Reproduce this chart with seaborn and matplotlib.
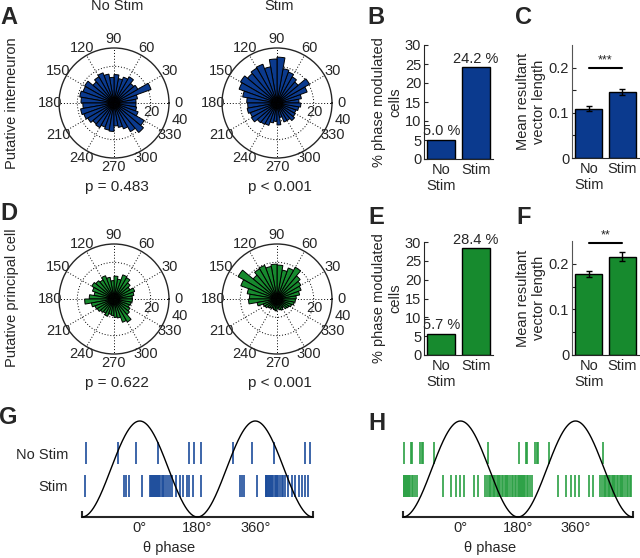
import numpy as np
import pandas as pd
import matplotlib
matplotlib.use("Agg")
import matplotlib.pyplot as plt
import seaborn as sns

# ---- data ----
bin_centres_deg = np.arange(5, 360, 10)  # 36 rose bins

int_nostim_rose = [24, 26, 43, 30, 28, 33, 30, 27, 31, 28, 32, 35, 33, 30, 37, 36, 38, 36,
                   34, 37, 35, 33, 30, 31, 28, 30, 31, 25, 27, 30, 36, 42, 38, 28, 25, 24]
int_stim_rose = [24, 27, 35, 41, 30, 33, 36, 38, 50, 48, 40, 45, 44, 42, 46, 44, 38, 33,
                 32, 33, 31, 32, 28, 27, 26, 22, 20, 24, 16, 22, 22, 25, 23, 22, 24, 26]
pc_nostim_rose = [20, 22, 24, 20, 23, 27, 28, 22, 25, 20, 24, 27, 24, 26, 28, 25, 22, 27,
                  32, 25, 22, 21, 19, 18, 20, 17, 18, 20, 21, 27, 29, 22, 20, 18, 19, 20]
pc_stim_rose = [21, 25, 28, 30, 33, 40, 36, 32, 37, 38, 36, 39, 38, 34, 49, 42, 33, 30,
                31, 22, 16, 15, 13, 12, 11, 12, 13, 10, 12, 13, 11, 14, 15, 17, 19, 20]

conditions = ["No\nStim", "Stim"]
int_pct_modulated = [5.0, 24.2]
pc_pct_modulated = [5.7, 28.4]
int_mrl = [0.109, 0.146]
int_mrl_sem = [0.006, 0.007]
pc_mrl = [0.178, 0.216]
pc_mrl_sem = [0.006, 0.010]

# spike phases (deg, one theta cycle), plotted over two cycles
g_nostim_phase = [-168, -68, -11, 58, 154, 170]
g_stim_phase = [-170, -48, -42, -34, 7, 32, 35, 38, 41, 44, 47, 50, 53, 56, 60, 64, 68,
                72, 77, 82, 88, 93, 101, 113, 124, 136, 146, 155, 165]
h_nostim_phase = [-178, -155, -151, -126, -122, -116, -84, 87]
h_stim_phase = [-179, -176, -173, -170, -167, -164, -161, -158, -153, -148, -142, -135,
                -54, -31, -15, -2, 12, 43, 56, 78, 84, 89, 93, 97, 101, 105, 109, 113,
                117, 121, 125, 129, 133, 138, 142, 146, 150, 155, 160, 165, 170, 175]

BLUE = "#0b3a8e"
GREEN = "#178a2e"
RASTER_BLUE = "#1b4c9b"
RASTER_GREEN = "#2aa043"

sns.set_style("ticks")
plt.rcParams["font.family"] = ["Liberation Sans", "DejaVu Sans"]
plt.rcParams["font.size"] = 10

W, H = 640, 558
fig = plt.figure(figsize=(6.4, 5.58), dpi=100)


def px_axes(l, t, r, b, **kw):
    return fig.add_axes([l / W, 1 - b / H, (r - l) / W, (b - t) / H], **kw)


def ftext(x, y, s, **kw):
    fig.text(x / W, 1 - y / H, s, **kw)


def rose(ax, counts, color):
    theta = np.deg2rad(bin_centres_deg)
    ax.bar(theta, counts, width=np.deg2rad(10), bottom=0, color=color,
           edgecolor="black", linewidth=0.7, zorder=3)
    ax.set_ylim(0, 60)
    ax.set_rgrids([20, 40], labels=["", ""])
    ax.set_thetagrids(range(0, 360, 30), labels=[str(a) for a in range(0, 360, 30)])
    ax.grid(True, color="black", linestyle=(0, (1, 2)), linewidth=0.7)
    ax.spines["polar"].set_linewidth(1.0)
    ax.tick_params(axis="x", pad=-4, labelsize=10.5)
    ax.set_facecolor("white")
    ax.text(np.deg2rad(-13), 42, "20", ha="center", va="center", fontsize=10.5, zorder=5)
    ax.text(np.deg2rad(-14.5), 74, "40", ha="center", va="center", fontsize=10.5,
            clip_on=False)


# ---- polar roses ----
rose(px_axes(59, 48, 169, 158, projection="polar"), int_nostim_rose, BLUE)
rose(px_axes(222, 48, 332, 158, projection="polar"), int_stim_rose, BLUE)
rose(px_axes(59, 244, 169, 354, projection="polar"), pc_nostim_rose, GREEN)
rose(px_axes(222, 244, 332, 354, projection="polar"), pc_stim_rose, GREEN)

ftext(117, 6, "No Stim", ha="center", va="center", fontsize=10.5)
ftext(279, 6, "Stim", ha="center", va="center", fontsize=10.5)
ftext(117, 187, "p = 0.483", ha="center", va="center", fontsize=11)
ftext(280, 187, "p < 0.001", ha="center", va="center", fontsize=11)
ftext(117, 383, "p = 0.622", ha="center", va="center", fontsize=11)
ftext(280, 383, "p < 0.001", ha="center", va="center", fontsize=11)
ftext(12, 103, "Putative interneuron", rotation=90, ha="center", va="center", fontsize=10.5)
ftext(12, 298, "Putative principal cell", rotation=90, ha="center", va="center", fontsize=10.5)


# ---- bar panels ----
def pct_panel(ax, vals, color):
    sns.barplot(x=conditions, y=vals, ax=ax, color=color, saturation=1,
                edgecolor="black", linewidth=1, width=0.8, errorbar=None)
    ax.set_xlim(-0.5, 1.5)
    ax.set_ylim(0, 30)
    ax.set_yticks(range(0, 31, 5))
    for i, v in enumerate(vals):
        ax.text(i, v + 0.4, f"{v:.1f} %", ha="center", va="bottom", fontsize=10.5)
    ax.set_ylabel("% phase modulated\ncells", labelpad=2, fontsize=10.5)
    ax.tick_params(axis="y", direction="in", length=3, pad=2, labelsize=10.5)
    ax.tick_params(axis="x", length=0, pad=3, labelsize=10.5)
    sns.despine(ax=ax)


def mrl_panel(ax, vals, sems, color, sig_y, stars):
    sns.barplot(x=conditions, y=vals, ax=ax, color=color, saturation=1,
                edgecolor="black", linewidth=1, width=0.8, errorbar=None)
    ax.errorbar([0, 1], vals, yerr=sems, fmt="none", ecolor="black",
                elinewidth=1, capsize=2, capthick=1, zorder=4)
    ax.set_xlim(-0.5, 1.5)
    ax.set_ylim(0, 0.25)
    ax.set_yticks([0, 0.05, 0.1, 0.15, 0.2])
    ax.set_yticklabels(["0", "", "0.1", "", "0.2"])
    ax.plot([0, 1], [sig_y, sig_y], color="black", lw=1.5, clip_on=False)
    ax.text(0.5, sig_y + 0.003, stars, ha="center", va="bottom", fontsize=9,
            clip_on=False)
    ax.set_ylabel("Mean resultant\nvector length", labelpad=2, fontsize=10.5)
    ax.tick_params(axis="y", direction="in", length=3, pad=2, labelsize=10.5)
    ax.tick_params(axis="x", length=0, pad=3, labelsize=10.5)
    sns.despine(ax=ax)
    ax.spines["left"].set_color("#555555")


pct_panel(px_axes(424, 45, 493, 159), int_pct_modulated, BLUE)
mrl_panel(px_axes(572, 45, 639, 158), int_mrl, int_mrl_sem, BLUE, 0.2, "***")
pct_panel(px_axes(424, 242, 493, 355), pc_pct_modulated, GREEN)
mrl_panel(px_axes(572, 241, 639, 355), pc_mrl, pc_mrl_sem, GREEN, 0.245, "**")

# ---- rasters over theta cycles ----
theta_x = np.arange(-180, 541, 2)
theta_df = pd.DataFrame({"phase": theta_x, "lfp": np.cos(np.deg2rad(theta_x))})


def raster_panel(ax, nostim, stim, color, show_labels):
    rows = [0.33, -0.35]
    nostim = np.asarray(nostim)
    stim = np.asarray(stim)
    ax.eventplot([np.concatenate([nostim, nostim + 360]),
                  np.concatenate([stim, stim + 360])],
                 lineoffsets=rows, linelengths=0.45, colors=color, linewidths=1.2)
    sns.lineplot(data=theta_df, x="phase", y="lfp", ax=ax, color="black", lw=1,
                 zorder=4, clip_on=False)
    ax.set_xlim(-180, 540)
    ax.set_ylim(-1, 1)
    ax.set_xticks([0, 180, 360])
    ax.set_xticklabels(["0°", "180°", "360°"])
    ax.set_xticks([-180, 180, 540], minor=True)
    ax.tick_params(axis="x", which="major", length=0, pad=3, labelsize=10.5)
    ax.tick_params(axis="x", which="minor", direction="in", length=4, width=1.5)
    if show_labels:
        ax.set_yticks(rows)
        ax.set_yticklabels(["No Stim", "Stim"])
        ax.tick_params(axis="y", length=0, pad=10, labelsize=10.5)
    else:
        ax.set_yticks([])
    ax.set_ylabel("")
    ax.set_xlabel("θ phase", fontsize=10.5)
    ax.xaxis.set_label_coords(0.377, -0.25)
    for s in ["top", "right", "left"]:
        ax.spines[s].set_visible(False)
    ax.spines["bottom"].set_linewidth(1.5)


raster_panel(px_axes(82, 421, 313, 517), g_nostim_phase, g_stim_phase, RASTER_BLUE, True)
raster_panel(px_axes(403, 421, 633, 517), h_nostim_phase, h_stim_phase, RASTER_GREEN, False)

# ---- panel letters ----
for letter, x, y in [("A", 9, 17), ("B", 376, 17), ("C", 524, 17),
                     ("D", 9, 213), ("E", 376, 217), ("F", 524, 217),
                     ("G", 8, 418), ("H", 377, 423)]:
    ftext(x, y, letter, fontsize=17, fontweight="bold", ha="center", va="center")

fig.savefig("out.png", dpi=100, facecolor="white")
